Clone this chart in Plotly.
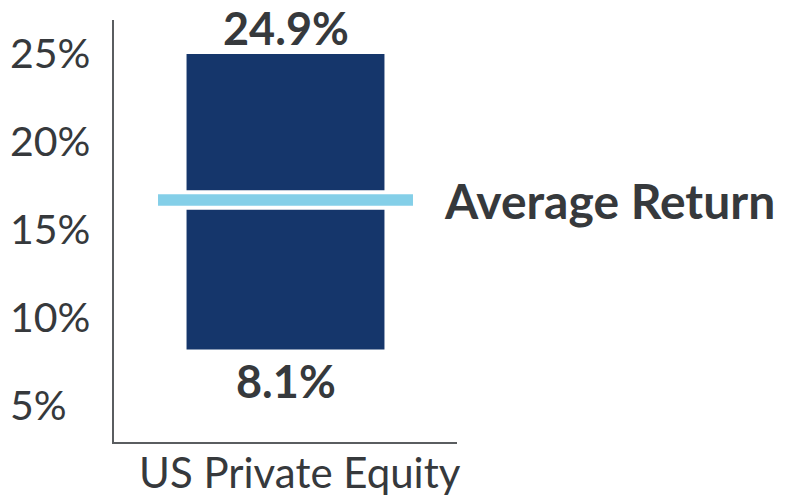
import plotly.graph_objects as go

# data
categories = ["US Private Equity"]
low_values = [8.1]
high_values = [24.9]
average_values = [16.6]
y_ticks = [5, 10, 15, 20, 25]
y_tick_labels = ["5%", "10%", "15%", "20%", "25%"]

NAVY = "#15366b"
LIGHT_BLUE = "#84cfe8"
TEXT = "#36393c"
FONT = "Lato"

avg_thickness = 0.88

fig = go.Figure()

# range bar
fig.add_trace(go.Bar(
    x=categories,
    y=[h - l for h, l in zip(high_values, low_values)],
    base=low_values,
    width=0.577,
    marker=dict(color=NAVY, line=dict(width=0)),
    hoverinfo="skip",
))

# average return marker
fig.add_trace(go.Bar(
    x=categories,
    y=[avg_thickness for _ in average_values],
    base=[a - avg_thickness / 2 for a in average_values],
    width=0.755,
    marker=dict(color=LIGHT_BLUE, line=dict(color="white", width=4)),
    hoverinfo="skip",
))

annotations = []
for cat, hi, lo in zip(categories, high_values, low_values):
    annotations.append(dict(x=cat, y=hi, text=f"<b>{hi:.1f}%</b>", showarrow=False,
                            yanchor="middle", yshift=26,
                            font=dict(family=FONT, size=45, color=TEXT)))
    annotations.append(dict(x=cat, y=lo, text=f"<b>{lo:.1f}%</b>", showarrow=False,
                            yanchor="middle", yshift=-31,
                            font=dict(family=FONT, size=45, color=TEXT)))

for avg in average_values:
    annotations.append(dict(xref="paper", x=0.956, y=avg, text="<b>Average Return</b>",
                            showarrow=False, xanchor="left", yanchor="middle",
                            font=dict(family=FONT, size=48, color=TEXT)))

# left aligned y tick labels
for v, lab in zip(y_ticks, y_tick_labels):
    annotations.append(dict(xref="paper", x=-0.309, y=v, text=lab, showarrow=False,
                            xanchor="left", yanchor="middle",
                            font=dict(family=FONT, size=41, color=TEXT)))

# category label under the axis, a little right of centre as in the original
for cat in categories:
    annotations.append(dict(x=cat, xshift=14, yref="paper", y=0, yshift=-30,
                            text=cat, showarrow=False, yanchor="middle",
                            font=dict(family=FONT, size=42, color=TEXT)))

# page body has an 8px margin, so the figure is 16px smaller than the window
fig.update_layout(
    width=774,
    height=487,
    margin=dict(l=106, r=325, t=12, b=53, autoexpand=False),
    paper_bgcolor="white",
    plot_bgcolor="white",
    barmode="overlay",
    showlegend=False,
    annotations=annotations,
    font=dict(family=FONT, size=41, color=TEXT),
)

fig.update_xaxes(
    range=[-0.5, 0.5],
    automargin=False,
    showline=True, linecolor="#5a5d60", linewidth=1.5,
    showgrid=False, ticks="", zeroline=False,
    showticklabels=False,
)
fig.update_yaxes(
    range=[2.85, 26.83],
    automargin=False,
    showline=True, linecolor="#5a5d60", linewidth=1.5,
    showgrid=False, ticks="", zeroline=False,
    tickvals=y_ticks, showticklabels=False,
)

fig.write_html("out.html")
